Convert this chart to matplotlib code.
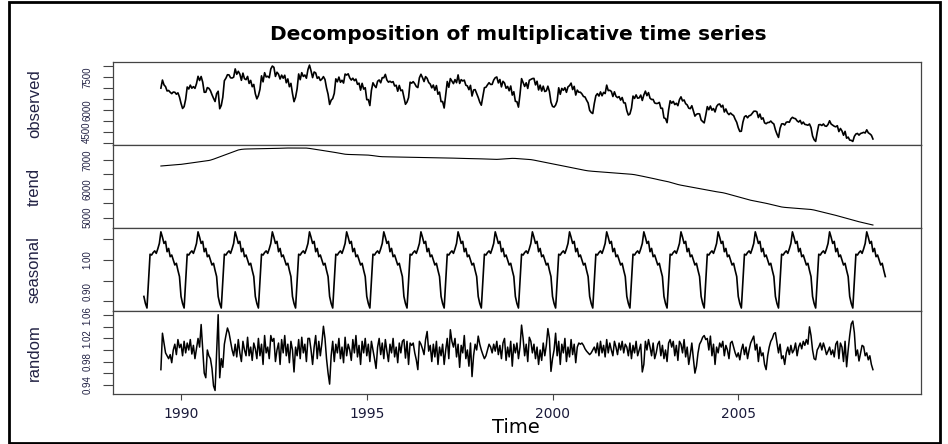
import numpy as np
import matplotlib.pyplot as plt
from matplotlib.patches import Rectangle

# half-monthly data (24 points per year); seasonal starts Jan 1989
per_year = 24
seasonal_start = 1989.0
n_seasonal_years = 20
first_k = 11   # trend / random / observed start at 1989 + 11/24

seasonal_cycle = [0.912, 0.895, 0.884, 0.950, 1.014, 1.012, 1.018, 1.022,
                  1.016, 1.027, 1.040, 1.068, 1.055, 1.040, 1.045, 1.020,
                  1.028, 1.008, 1.012, 1.000, 0.988, 0.992, 0.975, 0.960]

trend_vals = [
    6788, 6792, 6797, 6801, 6806, 6810, 6815, 6820, 6824, 6829, 6833, 6838, 6842,  # 1989
    6845, 6852, 6860, 6867, 6875, 6882, 6890, 6897, 6905, 6912, 6920, 6927,
    6935, 6942, 6950, 6957, 6965, 6972, 6980, 6992, 7008, 7026, 7046, 7068,  # 1990
    7090, 7110, 7130, 7150, 7170, 7190, 7210, 7230, 7250, 7270, 7290, 7310,
    7328, 7344, 7356, 7365, 7371, 7375, 7378, 7379, 7380, 7381, 7382, 7383,  # 1991
    7384, 7385, 7386, 7387, 7388, 7389, 7390, 7391, 7392, 7393, 7394, 7395,
    7396, 7398, 7400, 7402, 7404, 7406, 7408, 7410, 7411, 7412, 7412, 7412,  # 1992
    7412, 7412, 7413, 7413, 7414, 7414, 7414, 7413, 7412, 7410, 7405, 7398,
    7390, 7382, 7374, 7366, 7358, 7349, 7340, 7331, 7322, 7313, 7304, 7295,  # 1993
    7288, 7280, 7272, 7263, 7254, 7244, 7233, 7223, 7213, 7204, 7197, 7192,
    7189, 7187, 7185, 7183, 7181, 7179, 7178, 7176, 7175, 7174, 7172, 7171,  # 1994
    7170, 7166, 7161, 7155, 7148, 7140, 7132, 7125, 7119, 7114, 7111, 7109,
    7108, 7107, 7106, 7105, 7104, 7103, 7102, 7101, 7100, 7100, 7099, 7099,  # 1995
    7098, 7096, 7094, 7092, 7090, 7088, 7087, 7086, 7085, 7084, 7083, 7082,
    7081, 7080, 7079, 7078, 7077, 7076, 7075, 7074, 7073, 7072, 7071, 7070,  # 1996
    7069, 7068, 7067, 7066, 7065, 7064, 7063, 7062, 7061, 7059, 7057, 7055,
    7053, 7052, 7051, 7050, 7049, 7048, 7047, 7046, 7045, 7044, 7043, 7042,  # 1997
    7040, 7038, 7036, 7034, 7032, 7030, 7028, 7026, 7024, 7022, 7020, 7018,
    7018, 7020, 7024, 7028, 7033, 7038, 7042, 7046, 7050, 7052, 7053, 7052,  # 1998
    7050, 7046, 7042, 7038, 7034, 7030, 7026, 7022, 7019, 7016, 7010, 7002,
    6992, 6981, 6970, 6959, 6948, 6938, 6927, 6916, 6906, 6895, 6884, 6874,  # 1999
    6863, 6852, 6842, 6831, 6820, 6810, 6799, 6788, 6778, 6767, 6757, 6746,
    6735, 6724, 6713, 6702, 6691, 6680, 6669, 6658, 6647, 6637, 6628, 6620,  # 2000
    6614, 6609, 6604, 6600, 6596, 6592, 6588, 6584, 6580, 6576, 6572, 6568,
    6564, 6560, 6557, 6554, 6550, 6546, 6541, 6537, 6532, 6528, 6524, 6520,  # 2001
    6515, 6510, 6506, 6501, 6495, 6487, 6477, 6466, 6455, 6444, 6434, 6423,
    6412, 6401, 6390, 6380, 6368, 6356, 6343, 6330, 6318, 6306, 6295, 6284,  # 2002
    6275, 6265, 6253, 6238, 6222, 6206, 6190, 6175, 6160, 6146, 6133, 6122,
    6112, 6102, 6092, 6081, 6071, 6061, 6050, 6040, 6030, 6020, 6010, 6000,  # 2003
    5990, 5980, 5970, 5960, 5950, 5940, 5930, 5921, 5912, 5903, 5894, 5886,
    5878, 5870, 5861, 5850, 5836, 5821, 5806, 5791, 5776, 5761, 5746, 5731,  # 2004
    5716, 5701, 5686, 5671, 5656, 5641, 5626, 5612, 5600, 5589, 5578, 5568,
    5557, 5546, 5536, 5525, 5515, 5504, 5494, 5481, 5468, 5455, 5442, 5429,  # 2005
    5416, 5403, 5390, 5377, 5366, 5358, 5352, 5347, 5342, 5338, 5334, 5330,
    5326, 5322, 5318, 5314, 5310, 5306, 5302, 5298, 5294, 5290, 5285, 5279,  # 2006
    5271, 5260, 5247, 5234, 5221, 5208, 5195, 5182, 5169, 5156, 5143, 5130,
    5117, 5104, 5090, 5075, 5060, 5045, 5030, 5015, 5000, 4985, 4970, 4955,  # 2007
    4940, 4925, 4910, 4895, 4880, 4866, 4853, 4840, 4828, 4815, 4803, 4790,
    4778, 4765, 4752, 4740,                                                  # 2008
]

random_vals = [
    0.966, 1.029, 1.012, 0.995, 0.990, 0.985, 0.992, 0.978, 1.000, 1.010, 0.992, 1.018, 1.004,  # 1989
    1.010, 0.990, 1.015, 0.995, 1.012, 1.000, 1.018, 0.993, 1.008, 0.985, 1.002, 1.020,
    1.005, 1.044, 1.002, 0.960, 0.952, 1.000, 0.990, 0.985, 0.968, 0.938, 0.930, 0.995,  # 1990
    1.061, 0.952, 0.985, 0.970, 1.010, 1.025, 1.038, 1.030, 1.015, 1.000, 0.990, 1.010,
    0.988, 1.018, 0.995, 0.980, 1.015, 1.000, 0.990, 1.022, 0.990, 1.005, 0.982, 1.012,  # 1991
    1.002, 0.985, 1.020, 0.990, 1.010, 0.975, 1.025, 0.995, 1.005, 0.985, 1.025, 1.015,
    1.020, 0.980, 1.000, 1.012, 0.975, 1.018, 0.995, 1.025, 0.990, 1.010, 0.978, 1.015,  # 1992
    1.000, 0.962, 1.005, 0.990, 1.018, 0.985, 1.022, 0.995, 1.010, 0.980, 1.020, 1.020,
    1.000, 0.975, 1.005, 1.025, 0.985, 1.015, 0.990, 1.012, 1.041, 1.020, 0.985, 0.960,  # 1993
    0.941, 0.990, 1.015, 0.980, 1.010, 0.995, 1.020, 0.985, 1.005, 0.978, 1.022, 0.990,
    1.010, 1.000, 0.982, 1.018, 0.995, 1.025, 0.988, 1.008, 0.975, 1.015, 0.995, 1.020,  # 1994
    0.990, 1.010, 0.980, 1.015, 1.000, 0.985, 0.968, 1.005, 1.020, 0.992, 1.012, 0.985,
    1.018, 0.998, 0.980, 1.010, 0.995, 1.020, 0.988, 1.005, 0.978, 1.012, 0.995, 1.015,  # 1995
    1.018, 0.986, 1.015, 0.975, 1.012, 1.008, 1.012, 0.995, 0.983, 0.966, 1.015, 1.010,
    1.002, 0.992, 1.018, 1.032, 0.998, 1.008, 0.980, 1.010, 0.988, 1.015, 0.975, 1.005,  # 1996
    0.990, 1.010, 0.975, 1.000, 1.020, 0.985, 1.035, 1.015, 1.005, 1.020, 0.988, 1.010,
    0.970, 1.008, 0.995, 1.025, 0.985, 1.000, 0.972, 1.012, 0.954, 0.990, 1.010, 1.000,  # 1997
    1.024, 1.010, 1.000, 0.992, 0.985, 0.990, 1.000, 1.010, 1.005, 0.995, 1.010, 0.998,
    1.015, 0.992, 1.008, 0.985, 1.012, 1.020, 0.982, 1.005, 0.988, 1.015, 0.972, 1.010,  # 1998
    0.995, 1.012, 0.985, 1.005, 1.043, 1.020, 0.990, 1.010, 0.980, 1.022, 1.015, 0.995,
    1.010, 0.985, 1.005, 0.975, 1.000, 0.982, 1.012, 0.990, 1.008, 1.037, 1.020, 0.963,  # 1999
    0.985, 1.000, 1.029, 0.990, 1.015, 0.975, 1.010, 0.995, 1.020, 0.980, 1.005, 0.988,
    1.018, 0.992, 1.010, 0.978, 1.005, 1.012, 1.010, 1.012, 1.008, 1.002, 0.998, 0.995,  # 2000
    0.992, 0.995, 1.000, 1.005, 0.995, 1.012, 0.990, 1.015, 0.995, 1.008, 0.988, 1.018,
    0.995, 1.012, 1.000, 0.990, 1.015, 1.005, 0.992, 1.012, 1.000, 1.015, 0.995, 1.010,  # 2001
    1.005, 0.990, 1.012, 0.985, 1.008, 0.995, 1.015, 0.990, 1.000, 1.010, 0.962, 0.975,
    1.015, 1.000, 1.018, 1.005, 0.990, 1.012, 0.985, 0.995, 1.010, 1.015, 0.990, 1.008,  # 2002
    0.985, 1.000, 0.980, 1.012, 1.018, 1.005, 1.015, 0.990, 1.008, 0.982, 1.015, 1.010,
    0.995, 1.018, 0.988, 1.005, 0.975, 0.992, 1.012, 0.985, 0.960, 0.972, 0.995, 1.010,  # 2003
    1.015, 1.022, 1.025, 1.018, 1.020, 1.000, 1.024, 0.990, 1.010, 0.975, 1.005, 0.995,
    1.012, 1.005, 1.015, 0.990, 1.008, 1.000, 0.985, 1.012, 1.015, 1.005, 0.995, 0.988,  # 2004
    0.995, 0.983, 1.000, 1.010, 0.992, 1.005, 0.985, 1.000, 1.012, 1.018, 1.024, 1.000,
    1.010, 0.980, 1.005, 0.990, 0.995, 0.975, 0.966, 0.990, 1.005, 1.015, 1.020, 1.028,  # 2005
    1.030, 1.012, 0.995, 1.010, 0.985, 0.990, 0.975, 0.995, 1.005, 0.992, 1.008, 0.995,
    1.000, 1.012, 0.990, 1.005, 1.012, 1.002, 1.015, 1.008, 1.018, 1.010, 1.040, 1.025,  # 2006
    1.000, 0.985, 0.983, 1.000, 1.005, 1.012, 1.000, 1.012, 1.003, 0.992, 0.998, 1.005,
    0.992, 1.000, 0.988, 1.010, 1.015, 0.985, 1.012, 1.005, 0.980, 1.015, 0.971, 1.000,  # 2007
    1.025, 1.045, 1.050, 1.030, 0.990, 1.000, 0.981, 0.995, 1.008, 1.006, 0.990, 0.995,
    0.983, 0.990, 0.975, 0.966,                                              # 2008
]

panel_names = ["observed", "trend", "seasonal", "random"]
x_ticks = [1990, 1995, 2000, 2005]

obs_ticks = [4500, 5000, 5500, 6000, 6500, 7000, 7500, 8000]
obs_labels = ["4500", "", "", "6000", "", "", "7500", ""]
trend_ticks = [5000, 5500, 6000, 6500, 7000]
trend_labels = ["5000", "", "6000", "", "7000"]
seas_ticks = [0.90, 0.95, 1.00, 1.05]
seas_labels = ["0.90", "", "1.00", ""]
rand_ticks = [0.94, 0.96, 0.98, 1.00, 1.02, 1.04, 1.06]
rand_labels = ["0.94", "", "0.98", "", "1.02", "", "1.06"]

# build series
seasonal_full = np.tile(seasonal_cycle, n_seasonal_years)
t_seas = seasonal_start + np.arange(len(seasonal_full)) / per_year
trend = np.array(trend_vals, dtype=float)
rnd = np.array(random_vals)
t_main = seasonal_start + (first_k + np.arange(len(trend))) / per_year
observed = trend * seasonal_full[first_k:first_k + len(trend)] * rnd

W, H = 948, 444
fig = plt.figure(figsize=(W / 100, H / 100), dpi=100)
left, right = 113, 921
tops = [62, 145, 228, 311]
ph = 83

series = [(t_main, observed, 1.2), (t_main, trend, 0.8),
          (t_seas, seasonal_full, 1.2), (t_main, rnd, 1.1)]
ylims = [(4394, 8202), (4636, 7517), (0.8768, 1.0773), (0.9239, 1.0674)]
yticks = [(obs_ticks, obs_labels), (trend_ticks, trend_labels),
          (seas_ticks, seas_labels), (rand_ticks, rand_labels)]

lab_font = ['Liberation Sans Narrow', 'Liberation Sans']
axes = []
for i, top in enumerate(tops):
    ax = fig.add_axes([left / W, 1 - (top + ph) / H, (right - left) / W, ph / H])
    tx, ty, lw = series[i]
    ax.plot(tx, ty, color='black', lw=lw)
    ax.set_xlim(1988.169, 2009.919)
    ax.set_ylim(*ylims[i])
    ticks, labels = yticks[i]
    ax.set_yticks(ticks)
    ax.set_yticklabels(labels, rotation=90, va='center', ha='right',
                       family=lab_font, fontsize=7, color='#222244')
    ax.tick_params(axis='y', direction='out', length=7, width=0.8,
                   color='#444444', pad=8)
    ax.set_ylabel(panel_names[i], family=lab_font, fontsize=12,
                  color='#222244')
    ax.yaxis.set_label_coords((42 - left) / (right - left), 0.5)
    for s in ax.spines.values():
        s.set_color('#444444')
        s.set_linewidth(0.9)
    if i < 3:
        ax.tick_params(axis='x', bottom=False, labelbottom=False)
    else:
        ax.set_xticks(x_ticks)
        ax.set_xticklabels([str(x) for x in x_ticks], fontsize=10,
                           family='DejaVu Sans', color='#1a1a3a')
        ax.tick_params(axis='x', direction='out', length=4, width=0.8,
                       color='#444444', pad=5)
    axes.append(ax)

# bottom labels of the upper panels sit just above their tick, so they
# do not run into the top label of the panel below
axes[0].get_yticklabels()[0].set_va('bottom')
axes[2].get_yticklabels()[0].set_va('bottom')

fig.text(516 / W, 1 - 427 / H, "Time", ha='center', va='center',
         fontsize=14, family='DejaVu Sans')
fig.text(518 / W, 1 - 35 / H, "Decomposition of multiplicative time series",
         ha='center', va='center', fontsize=14.5, fontweight='bold',
         family='DejaVu Sans')

fig.patches.append(Rectangle((9 / W, 1 / H), (940 - 9) / W, (442 - 1) / H,
                             transform=fig.transFigure, fill=False,
                             edgecolor='black', lw=2))

fig.savefig("out.png", dpi=100)
